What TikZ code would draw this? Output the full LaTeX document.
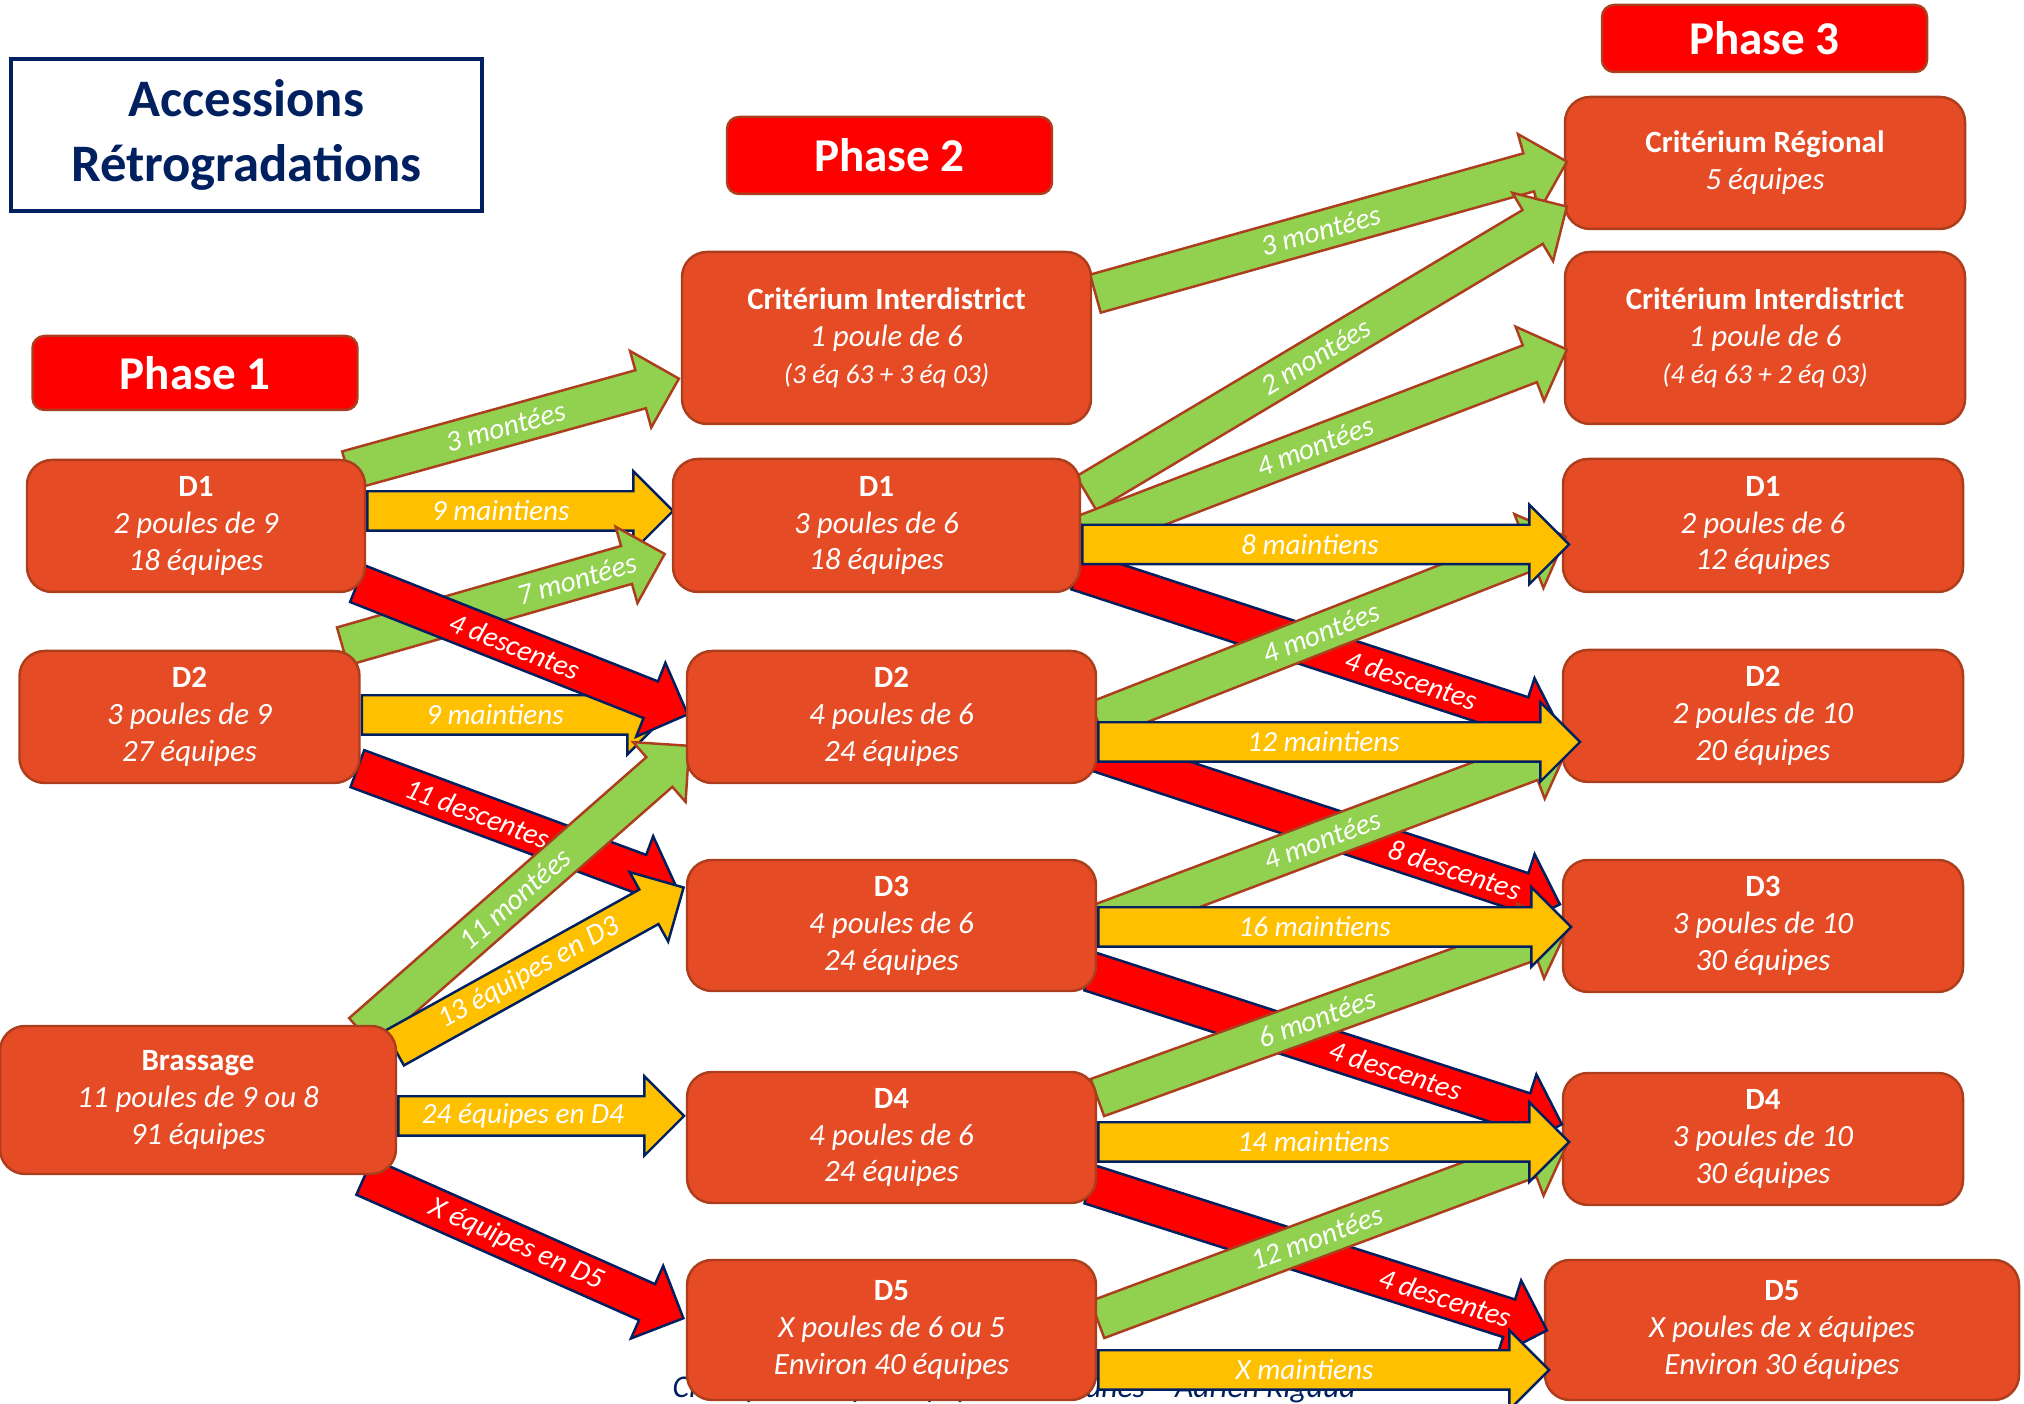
\documentclass[tikz,border=0pt]{standalone}
\usepackage{fontspec}
\setmainfont{Carlito}
\usetikzlibrary{shapes.arrows,calc}

\definecolor{orangebox}{RGB}{229,75,36}
\definecolor{bordbox}{RGB}{172,62,30}
\definecolor{vert}{RGB}{146,208,80}
\definecolor{jaune}{RGB}{255,192,0}
\definecolor{rouge}{RGB}{255,0,0}
\definecolor{marine}{RGB}{0,32,96}

\pgfdeclarelayer{dessous}
\pgfdeclarelayer{fleches}
\pgfsetlayers{dessous,fleches,main}

\tikzset{
  titre/.style={draw=marine, line width=0.9pt, fill=white, text=marine, align=center, font=\fontsize{15}{18.3}\selectfont\bfseries},
  bandeau/.style={draw=bordbox, line width=0.7pt, fill=rouge, rounded corners=0.12cm, text=white, minimum width=3.25cm, font=\fontsize{13.4}{16}\selectfont\bfseries},
  boite/.style={draw=bordbox, line width=0.7pt, fill=orangebox, rounded corners=0.25cm, text=white, align=center, font=\fontsize{8.8}{10.5}\selectfont\itshape},
  fleche/.style={single arrow, single arrow head extend=0.2cm, inner sep=0pt, text height=0.37cm, text depth=0pt, line width=0.7pt},
  monte/.style={fleche, fill=vert, draw=bordbox},
  maintien/.style={fleche, fill=jaune, draw=marine},
  descente/.style={fleche, fill=rouge, draw=marine},
  etiquette/.style={text=white, inner sep=0pt, font=\fontsize{8.3}{10}\selectfont\itshape},
}

\newcommand{\nom}[1]{\textup{\bfseries #1}}
\newcommand{\petit}[1]{{\fontsize{7.8}{9}\selectfont #1}}
% [pos label]{style}{from}{to}{label}
\newcommand{\flux}[5][0.47]{%
  \begin{pgfonlayer}{fleches}
  \path let \p1=#3, \p2=#4, \n1={atan2(\y2-\y1,\x2-\x1)}, \n2={veclen(\x2-\x1,\y2-\y1)} in
    node[#2, anchor=tail, rotate=\n1, minimum height=\n2] at (\p1) {};
  \path #3 -- #4 node[etiquette, pos=#1, sloped] {#5};
  \end{pgfonlayer}
}

\begin{document}
\begin{tikzpicture}
\useasboundingbox (0,0) rectangle (20.24,14.04);

\node[titre, minimum width=4.71cm, minimum height=1.52cm] (titre) at (2.465,12.69) {Accessions\\Rétrogradations};
\node[bandeau, minimum height=0.74cm] (ph1) at (1.95,10.31) {Phase 1};
\node[bandeau, minimum height=0.77cm] (ph2) at (8.895,12.485) {Phase 2};
\node[bandeau, minimum height=0.67cm] (ph3) at (17.645,13.655) {Phase 3};

% phase 1
\node[boite, minimum width=3.38cm, minimum height=1.32cm] (pun) at (1.96,8.78) {\nom{D1}\\2 poules de 9\\18 équipes};
\node[boite, minimum width=3.40cm, minimum height=1.32cm] (pdeux) at (1.895,6.87) {\nom{D2}\\3 poules de 9\\27 équipes};
\node[boite, minimum width=3.96cm, minimum height=1.48cm] (brassage) at (1.98,3.04) {\nom{Brassage}\\11 poules de 9 ou 8\\91 équipes};

% phase 2
\node[boite, minimum width=4.09cm, minimum height=1.72cm] (ci2) at (8.865,10.66) {\nom{Critérium Interdistrict}\\1 poule de 6\\\petit{(3 éq 63 + 3 éq 03)}};
\node[boite, minimum width=4.07cm, minimum height=1.33cm] (d1b) at (8.765,8.785) {\nom{D1}\\3 poules de 6\\18 équipes};
\node[boite, minimum width=4.09cm, minimum height=1.32cm] (d2b) at (8.915,6.87) {\nom{D2}\\4 poules de 6\\24 équipes};
\node[boite, minimum width=4.09cm, minimum height=1.31cm] (d3b) at (8.915,4.785) {\nom{D3}\\4 poules de 6\\24 équipes};
\node[boite, minimum width=4.09cm, minimum height=1.31cm] (d4b) at (8.915,2.665) {\nom{D4}\\4 poules de 6\\24 équipes};
\node[boite, minimum width=4.09cm, minimum height=1.40cm] (d5b) at (8.915,0.74) {\nom{D5}\\X poules de 6 ou 5\\Environ 40 équipes};

% phase 3
\begin{pgfonlayer}{dessous}
\node[anchor=base west, inner sep=0pt, text=marine, font=\fontsize{9}{10}\selectfont\itshape] (pied) at (6.72,0.06) {Championnat par Équipes des Jeunes – Adrien Rigaud};
\node[boite, minimum width=4.00cm, minimum height=1.32cm] (cr3) at (17.65,12.41) {\nom{Critérium Régional}\\5 équipes};
\node[boite, minimum width=4.00cm, minimum height=1.72cm] (ci3) at (17.65,10.66) {\nom{Critérium Interdistrict}\\1 poule de 6\\\petit{(4 éq 63 + 2 éq 03)}};
\node[boite, minimum width=4.00cm, minimum height=1.33cm] (d1c) at (17.63,8.785) {\nom{D1}\\2 poules de 6\\12 équipes};
\node[boite, minimum width=4.00cm, minimum height=1.32cm] (d2c) at (17.63,6.88) {\nom{D2}\\2 poules de 10\\20 équipes};
\node[boite, minimum width=4.00cm, minimum height=1.32cm] (d3c) at (17.63,4.78) {\nom{D3}\\3 poules de 10\\30 équipes};
\node[boite, minimum width=4.00cm, minimum height=1.32cm] (d4c) at (17.63,2.65) {\nom{D4}\\3 poules de 10\\30 équipes};
\node[boite, minimum width=4.74cm, minimum height=1.40cm] (d5c) at (17.82,0.74) {\nom{D5}\\X poules de x équipes\\Environ 30 équipes};
\end{pgfonlayer}

% phase 1 -> phase 2
\flux[0.44]{maintien}{([yshift=0.15cm]pun.east)}{([yshift=0.145cm]d1b.west)}{9 maintiens}
\flux[0.44]{maintien}{([yshift=0.02cm]pdeux.east)}{([shift={(-0.2,0.02)}]d2b.west)}{9 maintiens}
\flux[0.73]{monte}{([shift={(-0.195,0.03)}]pdeux.north east)}{([shift={(-0.08,0.39)}]d1b.south west)}{7 montées}
\flux[0.48]{monte}{([shift={(-0.2,-0.12)}]pun.north east)}{([shift={(-0.03,-0.41)}]ci2.west)}{3 montées}
\flux[0.48]{descente}{([shift={(-0.1,0.1)}]pun.south east)}{([shift={(0.01,0.03)}]d2b.west)}{4 descentes}
\flux[0.38]{descente}{([shift={(-0.045,0.16)}]pdeux.south east)}{([shift={(-0.1,0.385)}]d3b.west)}{11 descentes}
\flux[0.47]{monte}{([shift={(-0.36,-0.09)}]brassage.north east)}{([shift={(0.03,0.38)}]d2b.south west)}{11 montées}
\flux[0.47]{maintien}{([shift={(-0.04,-0.24)}]brassage.north east)}{([shift={(-0.03,0.375)}]d3b.west)}{13 équipes en D3}
\flux[0.44]{maintien}{([yshift=-0.16cm]brassage.east)}{([shift={(-0.03,0.215)}]d4b.west)}{24 équipes en D4}
\flux[0.48]{descente}{([shift={(-0.34,-0.01)}]brassage.south east)}{([shift={(-0.03,0.12)}]d5b.west)}{X équipes en D5}

% phase 2 -> phase 3
\flux[0.695]{descente}{([shift={(-0.05,0.23)}]d1b.south east)}{([shift={(-0.03,-0.12)}]d2c.west)}{4 descentes}
\flux[0.78]{descente}{([shift={(-0.11,0.36)}]d2b.south east)}{([shift={(-0.03,0.22)}]d3c.west)}{8 descentes}
\flux[0.65]{descente}{([shift={(-0.08,0.21)}]d3b.south east)}{([shift={(-0.01,0.15)}]d4c.west)}{4 descentes}
\flux[0.78]{descente}{([shift={(-0.08,0.2)}]d4b.south east)}{([shift={(0.02,0)}]d5c.west)}{4 descentes}
\flux[0.48]{monte}{([shift={(0.02,0.44)}]ci2.east)}{([shift={(0.02,0.01)}]cr3.west)}{3 montées}
\flux[0.48]{monte}{([shift={(0.04,0.315)}]d1b.east)}{([shift={(0.02,0.23)}]cr3.south west)}{2 montées}
\flux[0.48]{monte}{([shift={(0.02,-0.095)}]d1b.east)}{([shift={(0.02,-0.12)}]ci3.west)}{4 montées}
\flux[0.48]{monte}{([shift={(-0.01,-0.04)}]d2b.east)}{([shift={(0.03,-0.115)}]d1c.west)}{4 montées}
\flux[0.48]{monte}{([shift={(-0.01,0.005)}]d3b.east)}{([shift={(0.05,-0.32)}]d2c.west)}{4 montées}
\flux[0.47]{monte}{([shift={(-0.01,0.395)}]d4b.east)}{([shift={(0.05,-0.02)}]d3c.west)}{6 montées}
\flux[0.47]{monte}{([shift={(-0.01,0.1)}]d5b.east)}{([shift={(0.04,-0.06)}]d4c.west)}{12 montées}
\flux[0.47]{maintien}{([yshift=-0.19cm]d1b.east)}{([shift={(0.06,-0.19)}]d1c.west)}{8 maintiens}
\flux[0.47]{maintien}{([yshift=-0.25cm]d2b.east)}{([shift={(0.17,-0.26)}]d2c.west)}{12 maintiens}
\flux[0.46]{maintien}{([yshift=-0.015cm]d3b.east)}{([shift={(0.08,-0.01)}]d3c.west)}{16 maintiens}
\flux[0.46]{maintien}{([yshift=-0.045cm]d4b.east)}{([shift={(0.06,-0.03)}]d4c.west)}{14 maintiens}
\flux[0.46]{maintien}{([yshift=-0.4cm]d5b.east)}{([shift={(0.04,-0.4)}]d5c.west)}{X maintiens}

\end{tikzpicture}
\end{document}
